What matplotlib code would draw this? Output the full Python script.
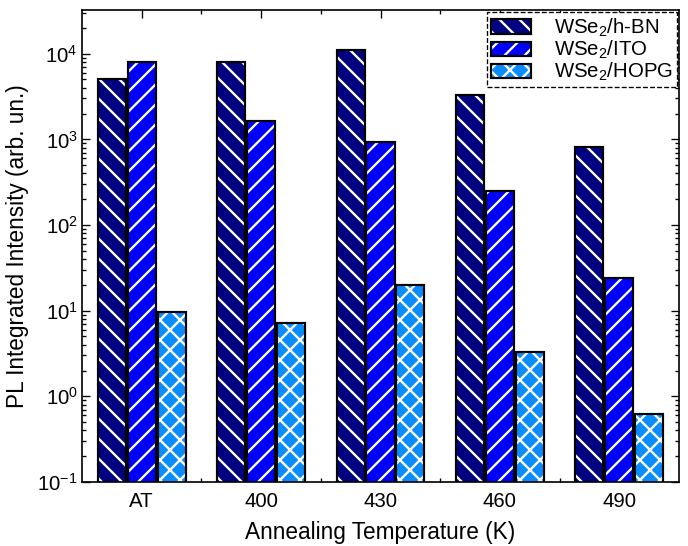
import numpy as np
import matplotlib
matplotlib.use("Agg")
import matplotlib.pyplot as plt
from matplotlib.patches import Patch
from matplotlib.ticker import LogLocator, NullFormatter, FixedLocator

plt.rcParams['font.family'] = ['Liberation Sans', 'DejaVu Sans']
plt.rcParams['mathtext.fontset'] = 'custom'
plt.rcParams['mathtext.rm'] = 'Liberation Sans'
plt.rcParams['mathtext.it'] = 'Liberation Sans:italic'
plt.rcParams['mathtext.default'] = 'regular'
plt.rcParams['hatch.linewidth'] = 1.4

categories = ['AT', '400', '430', '460', '490']
series_names = ['WSe$_2$/h-BN', 'WSe$_2$/ITO', 'WSe$_2$/HOPG']
hbn = [5000, 7900, 11000, 3300, 820]
ito = [7900, 1650, 940, 250, 24]
hopg = [9.7, 7.2, 20, 3.3, 0.63]
series = [hbn, ito, hopg]
colors = ['#000080', '#0000FF', '#0A8CFF']
hatches = ['\\\\', '//', 'xx']

dpi = 120
fig = plt.figure(figsize=(688 / dpi, 546 / dpi), dpi=dpi)
ax = fig.add_axes([82 / 688, 1 - 482 / 546, (679 - 82) / 688, (482 - 10) / 546])

x = np.arange(len(categories))
width = 0.235
offsets = [-0.25, 0.0, 0.25]
handles = []
for vals, col, h, off in zip(series, colors, hatches, offsets):
    ax.bar(x + off, vals, width, color=col, hatch=h, edgecolor='white', linewidth=0, zorder=2)
    ax.bar(x + off, vals, width, fill=False, edgecolor='black', linewidth=1.3, zorder=3)
    p1 = Patch(facecolor=col, hatch=h, edgecolor='white', linewidth=0)
    p2 = Patch(fill=False, edgecolor='black', linewidth=1.3)
    handles.append((p1, p2))

ax.set_yscale('log')
ax.set_ylim(0.1, 10 ** 4.51)
ax.set_xlim(-0.5, 4.5)
ax.set_xticks(x)
ax.set_xticklabels(categories)
ax.xaxis.set_minor_locator(FixedLocator(x[:-1] + 0.5))
ax.yaxis.set_major_locator(LogLocator(base=10, numticks=20))
ax.yaxis.set_minor_locator(LogLocator(base=10, subs=np.arange(2, 10), numticks=20))
ax.yaxis.set_minor_formatter(NullFormatter())

ax.tick_params(which='both', direction='in', top=True, right=True, labelsize=12.2, width=0.8)
ax.tick_params(axis='x', which='both', pad=6)
ax.tick_params(axis='y', which='both', pad=2.5)
ax.tick_params(which='major', length=5)
ax.tick_params(which='minor', length=2.5)
for s in ax.spines.values():
    s.set_linewidth(1.0)

ax.set_xlabel('Annealing Temperature (K)', fontsize=13.6, labelpad=6)
ax.set_ylabel('PL Integrated Intensity (arb. un.)', fontsize=13.6, labelpad=5)

leg = ax.legend(handles, series_names, loc='upper right', fontsize=12.2,
                handlelength=2.0, handleheight=0.7, labelspacing=0.0,
                borderaxespad=0.12, borderpad=0.2, handletextpad=1.1,
                fancybox=False, framealpha=1)
leg.get_frame().set_edgecolor('black')
leg.get_frame().set_linestyle('--')
leg.get_frame().set_linewidth(0.8)

fig.savefig('out.png', dpi=dpi)
